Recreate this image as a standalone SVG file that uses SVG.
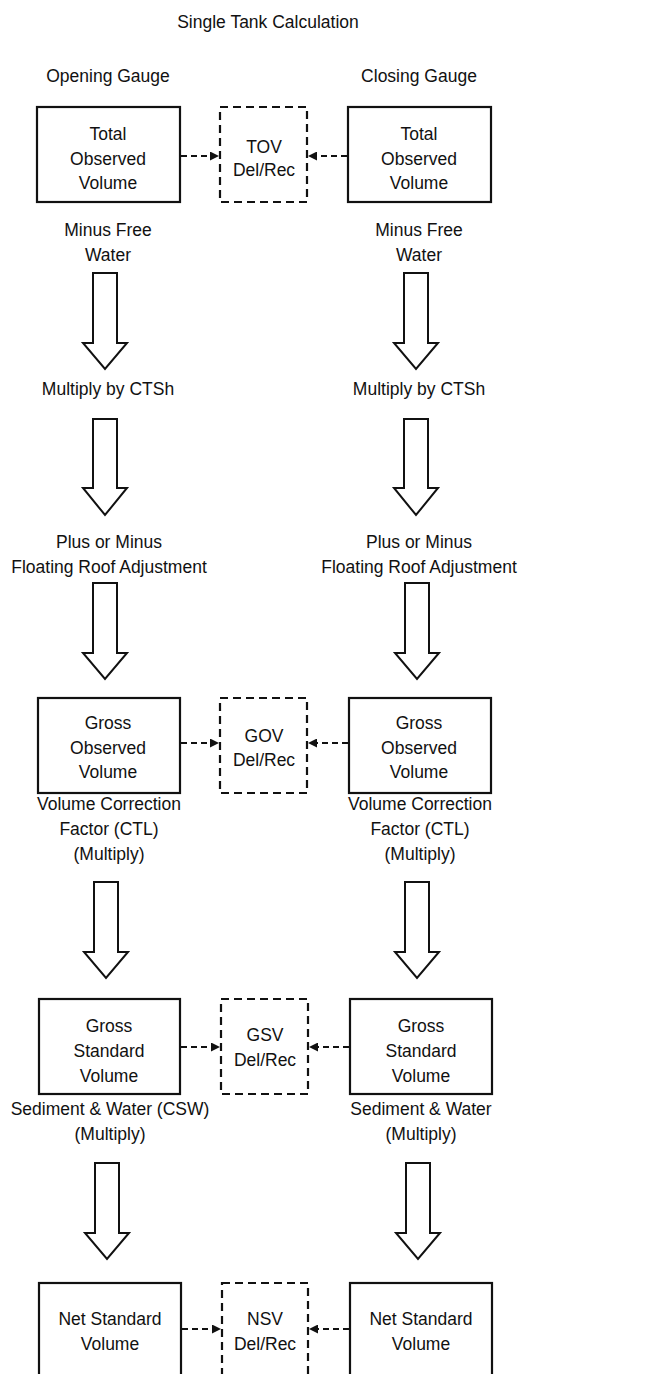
<svg xmlns="http://www.w3.org/2000/svg" width="664" height="1374" viewBox="0 0 664 1374">
<style>
text{font-family:"Liberation Sans",Arial,sans-serif;font-size:17.5px;fill:#111;text-anchor:middle}
.box{fill:#fff;stroke:#111;stroke-width:2.2}
.dbox{fill:#fff;stroke:#111;stroke-width:2.2;stroke-dasharray:8 5}
.blk{fill:#fff;stroke:#111;stroke-width:2;stroke-linejoin:miter}
.con{fill:none;stroke:#111;stroke-width:2;stroke-dasharray:6 4}
</style>
<defs>
<marker id="ah" viewBox="0 0 10 10" refX="10" refY="5" markerWidth="11" markerHeight="9" markerUnits="userSpaceOnUse" orient="auto">
<path d="M0,0 L10,5 L0,10 Z" fill="#111"/>
</marker>
</defs>
<rect width="664" height="1374" fill="#fff"/>
<text id="title" x="268" y="28">Single Tank Calculation</text>
<text id="hdr-open" x="108" y="82">Opening Gauge</text>
<text id="hdr-close" x="419" y="82">Closing Gauge</text>

<g id="tov-open"><rect class="box" x="37" y="107" width="143" height="95"/><text x="108" y="140">Total</text><text x="108" y="165">Observed</text><text x="108" y="189">Volume</text></g>
<g id="tov-del"><rect class="dbox" x="220" y="107" width="87" height="95"/><text x="264" y="153">TOV</text><text x="264" y="176">Del/Rec</text></g>
<g id="tov-close"><rect class="box" x="348" y="107" width="143" height="95"/><text x="419" y="140">Total</text><text x="419" y="165">Observed</text><text x="419" y="189">Volume</text></g>

<g id="lbl-minus-free-l"><text x="108" y="236">Minus Free</text><text x="108" y="261">Water</text></g>
<g id="lbl-minus-free-r"><text x="419" y="236">Minus Free</text><text x="419" y="261">Water</text></g>
<g id="arr1-l"><path class="blk" d="M93,273 L117,273 L117,343 L127,343 L105,369 L83,343 L93,343 Z"/></g>
<g id="arr1-r"><path class="blk" d="M404,273 L428,273 L428,343 L438,343 L416,369 L394,343 L404,343 Z"/></g>

<g id="lbl-ctsh-l"><text x="108" y="395">Multiply by CTSh</text></g>
<g id="lbl-ctsh-r"><text x="419" y="395">Multiply by CTSh</text></g>
<g id="arr2-l"><path class="blk" d="M93,419 L117,419 L117,488 L127,488 L105,515 L83,488 L93,488 Z"/></g>
<g id="arr2-r"><path class="blk" d="M404,419 L428,419 L428,488 L438,488 L416,515 L394,488 L404,488 Z"/></g>

<g id="lbl-fra-l"><text x="109" y="548">Plus or Minus</text><text x="109" y="573">Floating Roof Adjustment</text></g>
<g id="lbl-fra-r"><text x="419" y="548">Plus or Minus</text><text x="419" y="573">Floating Roof Adjustment</text></g>
<g id="arr3-l"><path class="blk" d="M93,583 L117,583 L117,653 L127,653 L105,679 L83,653 L93,653 Z"/></g>
<g id="arr3-r"><path class="blk" d="M405,583 L429,583 L429,653 L439,653 L417,679 L395,653 L405,653 Z"/></g>

<g id="gov-open"><rect class="box" x="38" y="698" width="142" height="95"/><text x="108" y="729">Gross</text><text x="108" y="754">Observed</text><text x="108" y="778">Volume</text></g>
<g id="gov-del"><rect class="dbox" x="220" y="698" width="87" height="95"/><text x="264" y="742">GOV</text><text x="264" y="766">Del/Rec</text></g>
<g id="gov-close"><rect class="box" x="349" y="698" width="142" height="95"/><text x="419" y="729">Gross</text><text x="419" y="754">Observed</text><text x="419" y="778">Volume</text></g>

<g id="lbl-ctl-l"><text x="109" y="810">Volume Correction</text><text x="109" y="835">Factor (CTL)</text><text x="109" y="860">(Multiply)</text></g>
<g id="lbl-ctl-r"><text x="420" y="810">Volume Correction</text><text x="420" y="835">Factor (CTL)</text><text x="420" y="860">(Multiply)</text></g>
<g id="arr4-l"><path class="blk" d="M94,882 L118,882 L118,952 L128,952 L106,978 L84,952 L94,952 Z"/></g>
<g id="arr4-r"><path class="blk" d="M405,882 L429,882 L429,952 L439,952 L417,978 L395,952 L405,952 Z"/></g>

<g id="gsv-open"><rect class="box" x="39" y="999" width="141" height="95"/><text x="109" y="1032">Gross</text><text x="109" y="1057">Standard</text><text x="109" y="1082">Volume</text></g>
<g id="gsv-del"><rect class="dbox" x="221" y="999" width="87" height="95"/><text x="265" y="1041">GSV</text><text x="265" y="1066">Del/Rec</text></g>
<g id="gsv-close"><rect class="box" x="350" y="999" width="142" height="95"/><text x="421" y="1032">Gross</text><text x="421" y="1057">Standard</text><text x="421" y="1082">Volume</text></g>

<g id="lbl-csw-l"><text x="110" y="1115">Sediment &amp; Water (CSW)</text><text x="110" y="1140">(Multiply)</text></g>
<g id="lbl-csw-r"><text x="421" y="1115">Sediment &amp; Water</text><text x="421" y="1140">(Multiply)</text></g>
<g id="arr5-l"><path class="blk" d="M95,1163 L119,1163 L119,1233 L129,1233 L107,1259 L85,1233 L95,1233 Z"/></g>
<g id="arr5-r"><path class="blk" d="M406,1163 L430,1163 L430,1233 L440,1233 L418,1259 L396,1233 L406,1233 Z"/></g>

<g id="nsv-open"><rect class="box" x="39" y="1283" width="142" height="110"/><text x="110" y="1325">Net Standard</text><text x="110" y="1350">Volume</text></g>
<g id="nsv-del"><rect class="dbox" x="222" y="1283" width="86" height="110"/><text x="265" y="1325">NSV</text><text x="265" y="1350">Del/Rec</text></g>
<g id="nsv-close"><rect class="box" x="350" y="1283" width="142" height="110"/><text x="421" y="1325">Net Standard</text><text x="421" y="1350">Volume</text></g>

<g id="connectors">
<line class="con" x1="181" y1="156" x2="219" y2="156" marker-end="url(#ah)"/>
<line class="con" x1="347" y1="156" x2="308" y2="156" marker-end="url(#ah)"/>
<line class="con" x1="181" y1="743" x2="219" y2="743" marker-end="url(#ah)"/>
<line class="con" x1="348" y1="743" x2="308" y2="743" marker-end="url(#ah)"/>
<line class="con" x1="181" y1="1047" x2="220" y2="1047" marker-end="url(#ah)"/>
<line class="con" x1="349" y1="1047" x2="309" y2="1047" marker-end="url(#ah)"/>
<line class="con" x1="182" y1="1329" x2="221" y2="1329" marker-end="url(#ah)"/>
<line class="con" x1="349" y1="1329" x2="309" y2="1329" marker-end="url(#ah)"/>
</g>
</svg>
